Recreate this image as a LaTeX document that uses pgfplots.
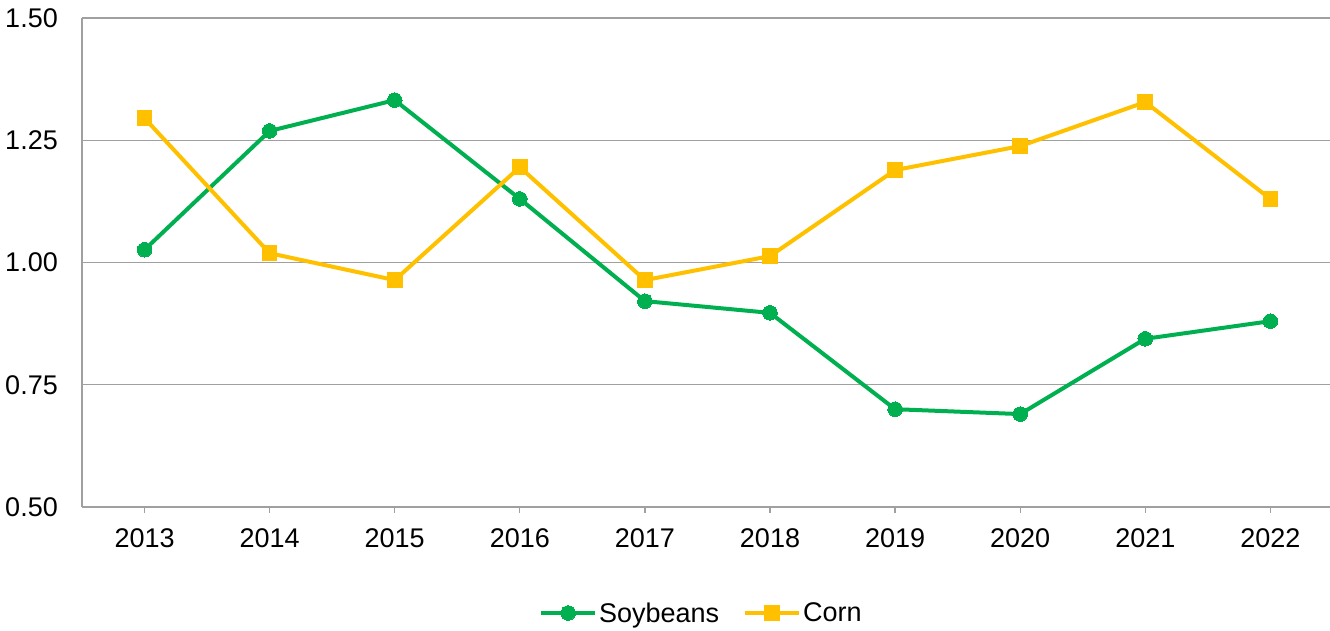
\documentclass[border=0pt]{standalone}
\usepackage{fontspec}
\setmainfont{Liberation Sans}
\usepackage{pgfplots}
\pgfplotsset{compat=1.18}
\definecolor{soy}{HTML}{00B050}
\definecolor{corn}{HTML}{FFC000}
\definecolor{gridc}{HTML}{A0A0A0}
\begin{document}
\begin{tikzpicture}
\useasboundingbox (-82pt,-124pt) rectangle (1248pt,507pt);
\begin{axis}[
  scale only axis,
  width=1251pt, height=489pt,
  at={(0pt,0pt)}, anchor=south west,
  xmin=-0.5, xmax=9.5,
  ymin=0.5, ymax=1.5,
  xtick={0,...,9},
  xticklabels={2013,2014,2015,2016,2017,2018,2019,2020,2021,2022},
  ytick={0.5,0.75,1,1.25,1.5},
  yticklabels={0.50,0.75,1.00,1.25,1.50},
  axis x line*=bottom,
  axis y line*=left,
  axis line style={draw=gridc, line width=1.3pt, -},
  ymajorgrids,
  grid style={draw=gridc, line width=1.3pt},
  tick align=outside,
  major tick length=6pt,
  xtick style={draw=gridc, line width=1.3pt},
  ytick style={draw=none},
  /pgf/number format/assume math mode=true,
  every tick label/.append style={font=\fontsize{27}{32}\selectfont},
  yticklabel style={inner sep=0pt, anchor=east, xshift=-18pt},
  xticklabel style={inner sep=0pt, anchor=north, yshift=-15pt},
  legend style={at={(0.4952,-0.2168)}, anchor=center, draw=none,
    font=\fontsize{27}{32}\selectfont, legend columns=2,
    /tikz/every even column/.append style={column sep=22pt}},
  legend cell align=left,
  legend image code/.code={\draw[mark repeat=2,mark phase=2] plot coordinates {(0pt,0pt) (27pt,0pt) (54pt,0pt)};},
  clip=false,
]
\addplot[color=soy, line width=4pt, mark=*, mark size=7.3pt, mark options={solid, line width=0pt, fill=soy}]
coordinates {(0,1.026) (1,1.269) (2,1.332) (3,1.130) (4,0.921) (5,0.897) (6,0.700) (7,0.690) (8,0.844) (9,0.880)};
\addlegendentry{Soybeans}
\addplot[color=corn, line width=4pt, mark=square*, mark size=7.3pt, mark options={solid, line width=0pt, fill=corn}]
coordinates {(0,1.295) (1,1.019) (2,0.964) (3,1.195) (4,0.964) (5,1.013) (6,1.189) (7,1.238) (8,1.328) (9,1.130)};
\addlegendentry{Corn}
\end{axis}
\end{tikzpicture}
\end{document}
